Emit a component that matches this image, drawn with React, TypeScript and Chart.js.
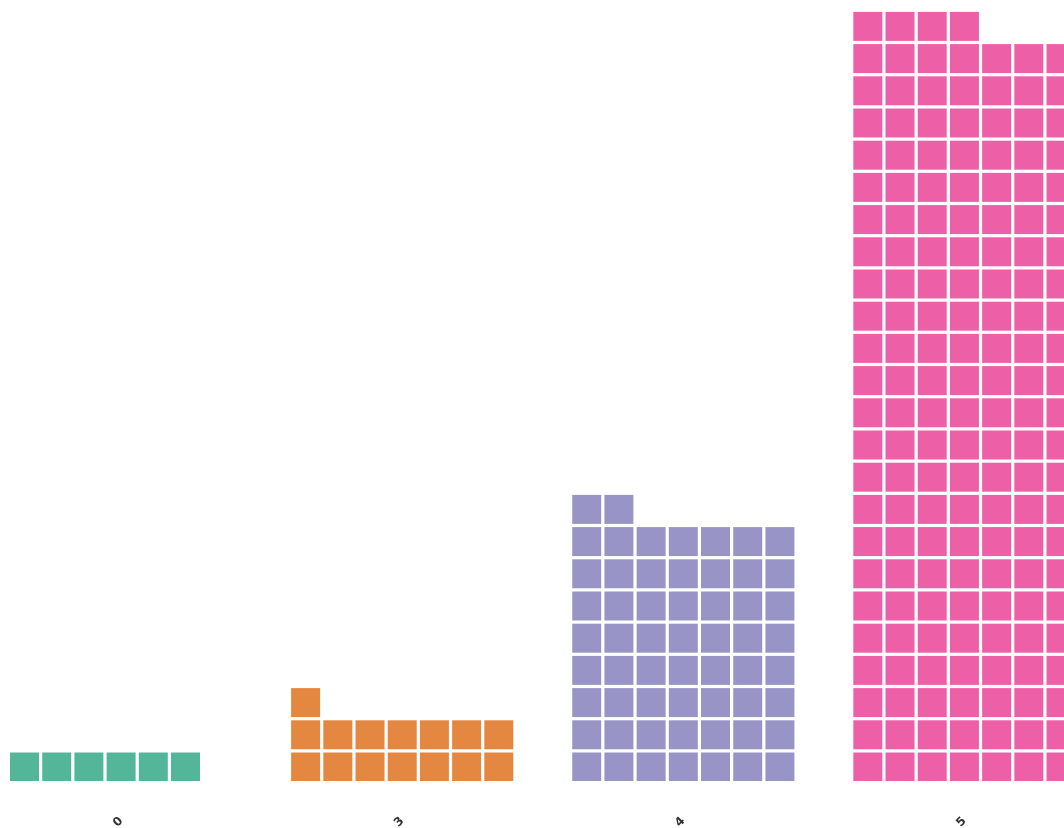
import React, { useEffect, useRef } from "react";
import { Chart, registerables } from "chart.js";

Chart.register(...registerables);

const categories: string[] = ["0", "3", "4", "5"];
const counts: number[] = [6, 15, 58, 165];
const colors: string[] = [
  "rgba(27,158,119,0.75)",
  "rgba(217,95,2,0.75)",
  "rgba(117,112,179,0.75)",
  "rgba(231,41,138,0.75)",
];

const COLS = 7;
const GROUP_STEP = 8.73;

export default function App() {
  const ref = useRef<HTMLCanvasElement | null>(null);

  useEffect(() => {
    if (!ref.current) return;
    const datasets = categories.map((cat, g) => {
      const pts: { x: number; y: number }[] = [];
      for (let i = 0; i < counts[g]; i++) {
        pts.push({ x: g * GROUP_STEP + (i % COLS), y: Math.floor(i / COLS) });
      }
      return {
        label: cat,
        data: pts,
        pointStyle: "rect" as const,
        pointRadius: 20.5,
        pointHoverRadius: 20.5,
        borderWidth: 0,
        backgroundColor: colors[g],
        borderColor: colors[g],
      };
    });
    const tickVals = categories.map((_, g) => g * GROUP_STEP + (COLS - 1) / 2);
    const chart = new Chart(ref.current, {
      type: "scatter",
      data: { datasets },
      options: {
        animation: false,
        responsive: true,
        maintainAspectRatio: false,
        layout: { padding: 0, autoPadding: false },
        plugins: { legend: { display: false }, tooltip: { enabled: false } },
        scales: {
          x: {
            type: "linear",
            min: -0.761,
            max: -0.761 + 1064 / 32.2,
            grid: { display: false, drawTicks: false },
            border: { display: false },
            afterBuildTicks: (scale: any) => {
              scale.ticks = tickVals.map((v) => ({ value: v }));
            },
            afterFit: (scale: any) => {
              scale.height = 47;
            },
            ticks: {
              autoSkip: false,
              maxRotation: 45,
              minRotation: 45,
              padding: 33,
              color: "#333",
              font: { family: "DejaVu Sans", size: 12, weight: "bold" },
              callback: (v: any) => {
                const idx = tickVals.findIndex((t) => Math.abs(t - Number(v)) < 1e-6);
                return idx >= 0 ? categories[idx] : "";
              },
            },
          },
          y: {
            display: false,
            min: -0.435,
            max: -0.435 + 781 / 32.2,
          },
        },
      },
    });
    return () => chart.destroy();
  }, []);

  return (
    <div style={{ position: "fixed", left: 0, top: 0, width: 1064, height: 828, background: "#fff" }}>
      <canvas ref={ref} />
    </div>
  );
}
